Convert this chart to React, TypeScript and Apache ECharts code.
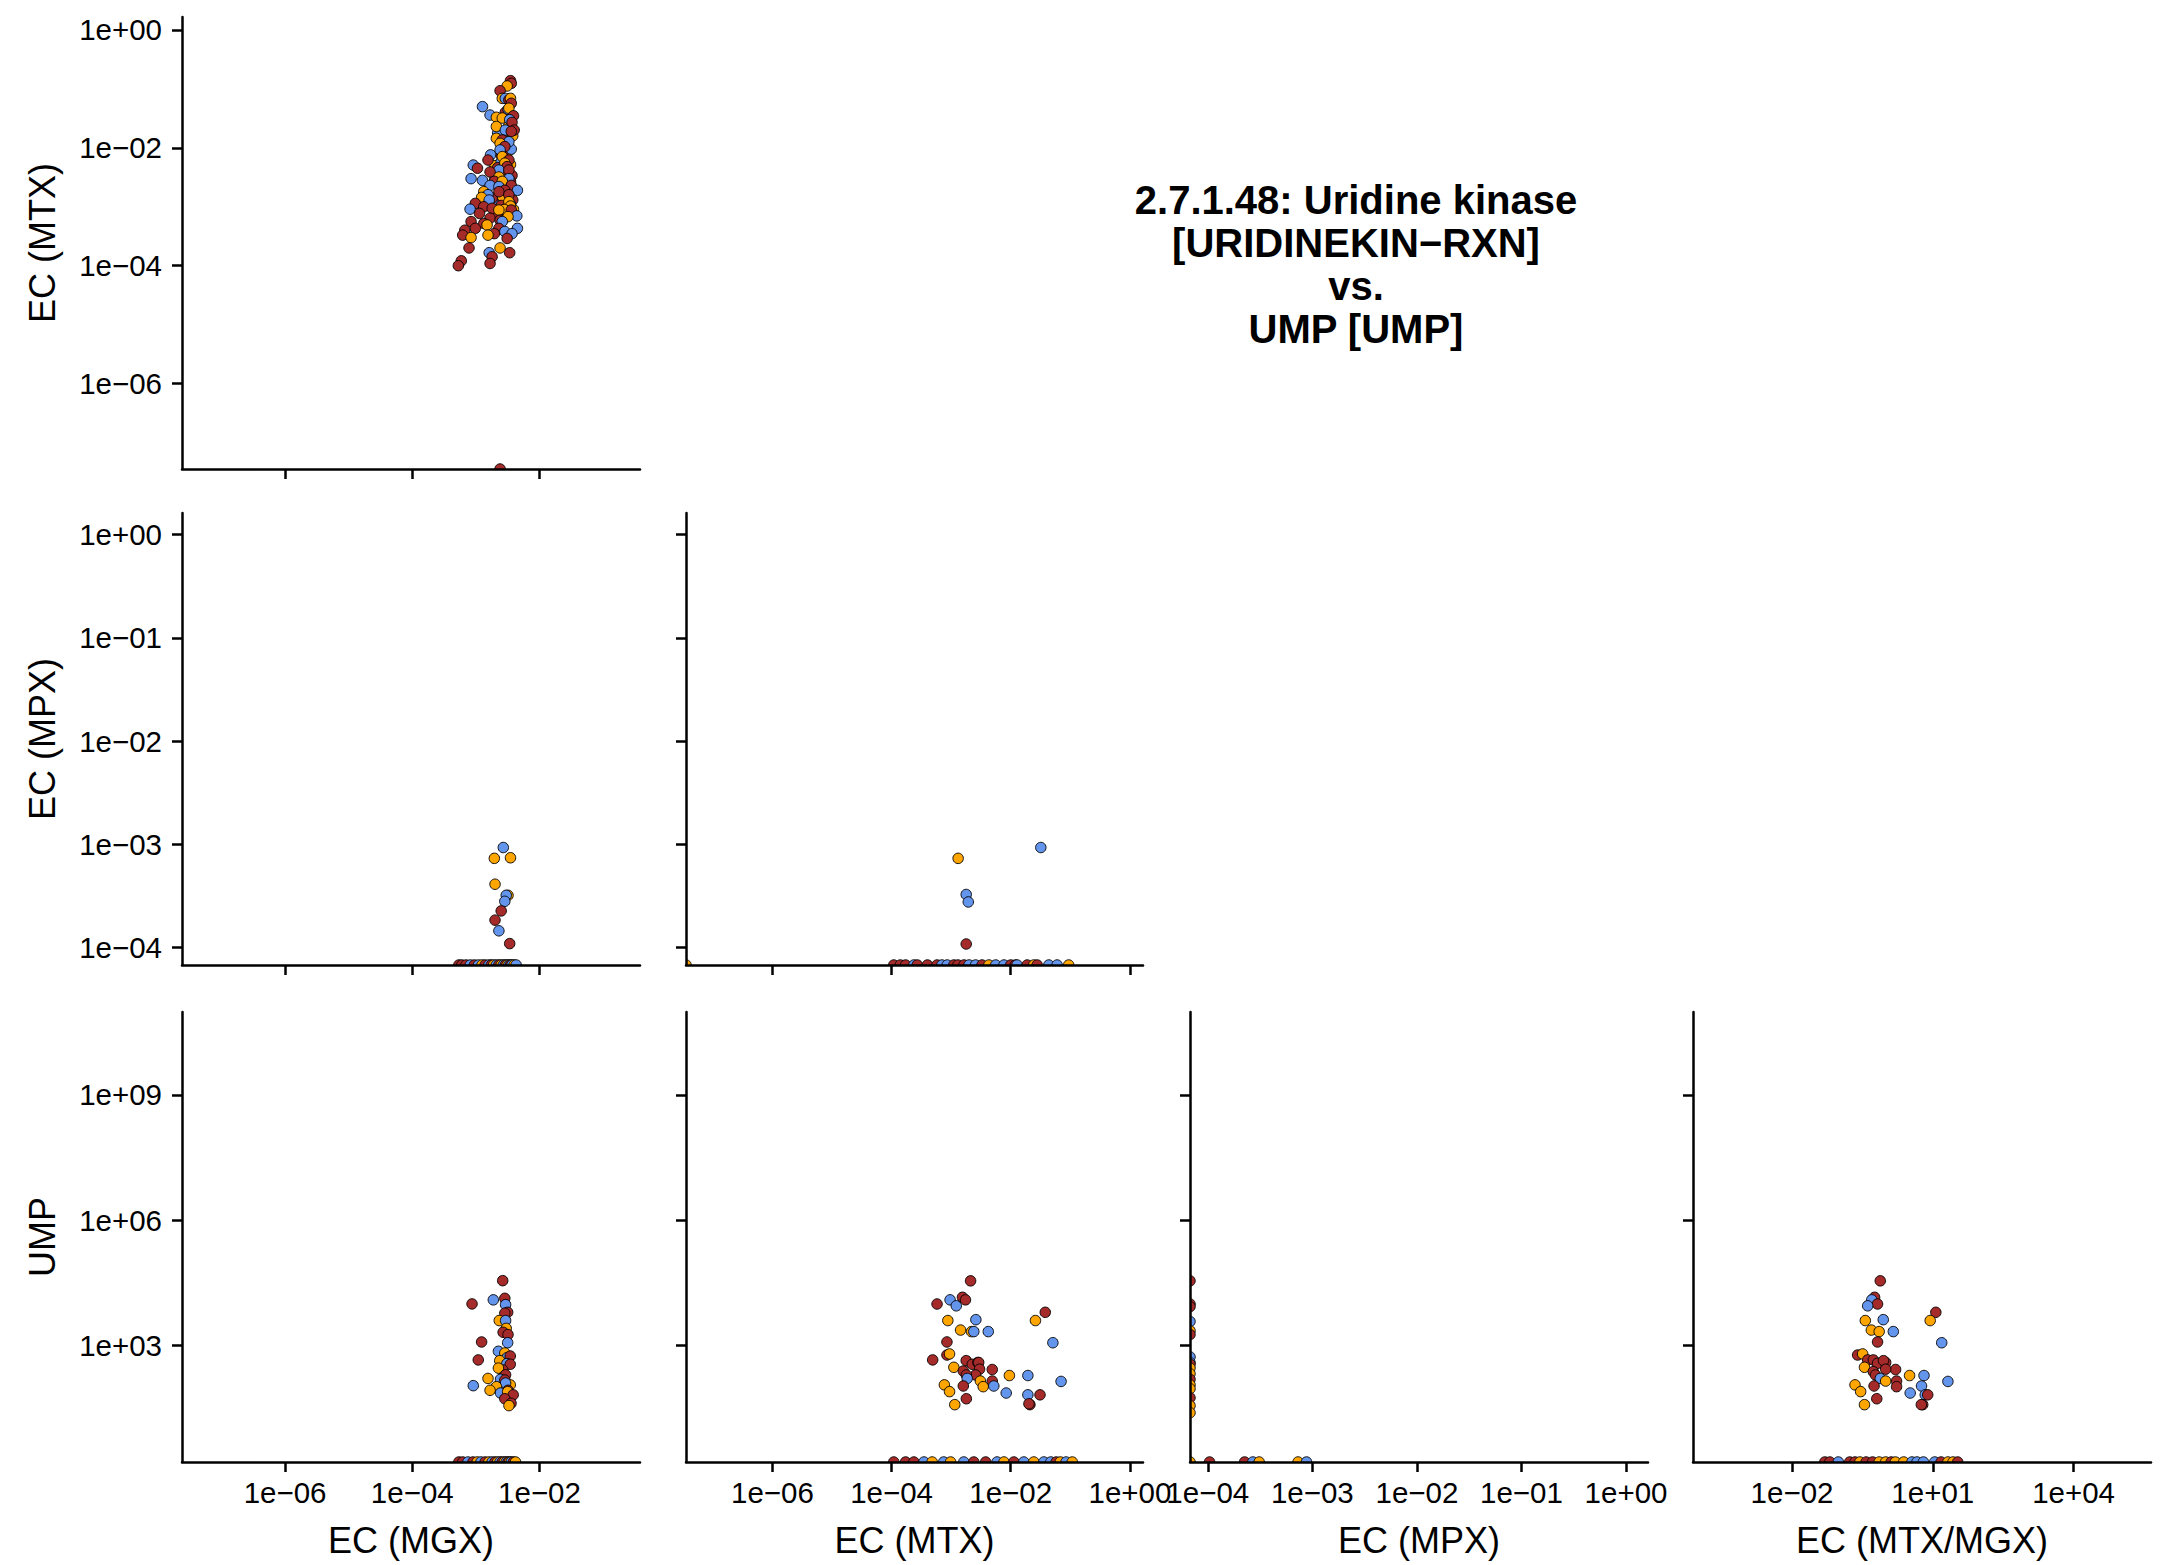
import React, { useEffect, useRef } from "react";
import * as echarts from "echarts";

type Pt = [number, number, number];
const B = 0, O = 1, R = 2;
const groupColors = ["#6495ED", "#FFA500", "#A52A2A"];

const titleLines = ["2.7.1.48: Uridine kinase", "[URIDINEKIN\u2212RXN]", "vs.", "UMP [UMP]"];
const xTitles = ["EC (MGX)", "EC (MTX)", "EC (MPX)", "EC (MTX/MGX)"];
const yTitles = ["EC (MTX)", "EC (MPX)", "UMP"];

// axis limits (log10 units) and tick values
const limLog10MGX = [-7.62, -0.42];
const limLog10MTX = [-7.45, 0.22];
const limLog10MPX = [-4.17, 0.21];
const limLog10Ratio = [-4.11, 5.65];
const limLog10UMP = [0.22, 10.98];
const ticksMGX = [1e-6, 1e-4, 1e-2];
const ticksMTX = [1e-6, 1e-4, 1e-2, 1];
const ticksMPX = [1e-4, 1e-3, 1e-2, 1e-1, 1];
const ticksRatio = [1e-2, 1e1, 1e4];
const ticksUMP = [1e3, 1e6, 1e9];

// [x, y, group]; 0 = zero value (drawn at the panel edge)
const mgxVsMtx: Pt[] = [
  [2.0e-3, 0.005, O], [3.0e-3, 0.0036, R], [2.7e-3, 0.0025, B], [3.4e-3, 0.0021, O],
  [2.2e-3, 0.0012, R], [3.0e-3, 0.0014, B], [2.5e-3, 0.0075, R], [3.2e-3, 0.0085, O],
  [1.9e-3, 0.0011, B], [3.8e-3, 0.0013, R], [2.7e-3, 0.016, B], [3.3e-3, 0.024, O],
  [2.9e-3, 0.04, R], [2.5e-3, 0.0058, B], [3.5e-3, 0.0052, O], [2.2e-3, 0.0046, R],
  [3.7e-3, 0.0034, R], [2.0e-3, 0.0031, B], [2.9e-3, 0.0029, O], [3.5e-3, 0.0027, R],
  [2.4e-3, 0.0024, R], [3.1e-3, 0.0017, R], [2.6e-3, 0.0015, O], [1.8e-3, 0.0014, R],
  [3.5e-3, 0.0011, B], [2.5e-3, 0.00105, R], [3.9e-3, 0.0009, O], [2.0e-3, 0.0008, R],
  [3.0e-3, 0.00075, R], [2.7e-3, 0.0086, R], [3.6e-3, 0.0095, B], [3.0e-3, 0.014, R],
  [3.8e-3, 0.016, O], [2.2e-3, 0.018, B],
  [3.5e-3, 0.138, R], [3.6e-3, 0.124, R], [3.1e-3, 0.112, O], [2.4e-3, 0.093, R],
  [2.6e-3, 0.069, O], [2.9e-3, 0.069, B], [3.3e-3, 0.065, R], [3.5e-3, 0.069, O],
  [3.6e-3, 0.057, R], [1.27e-3, 0.05, B], [3.2e-3, 0.045, B], [3.3e-3, 0.047, O],
  [1.67e-3, 0.036, B], [2.1e-3, 0.033, O], [3.9e-3, 0.035, R], [2.6e-3, 0.032, O],
  [3.4e-3, 0.03, B], [3.7e-3, 0.027, R], [2.1e-3, 0.023, O], [4.0e-3, 0.02, R],
  [2.9e-3, 0.02, B], [3.6e-3, 0.019, R], [2.1e-3, 0.0145, O], [2.6e-3, 0.0136, R],
  [3.3e-3, 0.0127, B], [2.4e-3, 0.0119, O], [2.85e-3, 0.0105, R], [2.4e-3, 0.0092, B],
  [1.7e-3, 0.0076, B], [2.6e-3, 0.0071, O], [1.55e-3, 0.0062, R], [3.3e-3, 0.0062, R],
  [2.85e-3, 0.0055, O], [9.1e-4, 0.0051, B], [3.1e-3, 0.0048, R], [1.06e-3, 0.0045, R],
  [2.3e-3, 0.0042, B], [3.3e-3, 0.0042, R], [1.67e-3, 0.0039, R], [2.3e-3, 0.0032, O],
  [3.3e-3, 0.003, B], [8.4e-4, 0.003, B], [1.27e-3, 0.0028, B], [1.95e-3, 0.0027, R],
  [2.6e-3, 0.0027, O], [1.67e-3, 0.0023, B], [3.6e-3, 0.0023, R], [2.3e-3, 0.0022, B],
  [2.85e-3, 0.0019, R], [4.5e-3, 0.0019, B], [1.33e-3, 0.0018, O], [2.3e-3, 0.0018, R],
  [1.55e-3, 0.0016, B], [3.3e-3, 0.0016, R], [1.23e-3, 0.00144, O], [1.62e-3, 0.0013, B],
  [3.3e-3, 0.00122, O], [9.8e-4, 0.00114, R], [3.5e-3, 0.00103, O], [1.33e-3, 0.001, R],
  [1.8e-3, 0.00094, R], [8.1e-4, 0.00091, B], [2.8e-3, 0.0009, O], [2.3e-3, 0.00088, O],
  [3.6e-3, 0.00088, R], [1.14e-3, 0.00077, R], [4.4e-3, 0.0007, B], [3.2e-3, 0.00068, O],
  [1.67e-3, 0.00064, R], [2.4e-3, 0.00059, R], [2.6e-3, 0.00056, B], [8.4e-4, 0.00056, R],
  [1.33e-3, 0.00052, R], [1.5e-3, 0.00049, O], [9.8e-4, 0.00043, R], [2.3e-3, 0.00043, R],
  [4.5e-3, 0.00043, B], [6.7e-4, 0.0004, R], [2.85e-3, 0.00038, B], [1.95e-3, 0.00035, R],
  [3.7e-3, 0.00035, B], [6.2e-4, 0.00033, R], [1.55e-3, 0.00033, O], [8.4e-4, 0.0003, O],
  [3.1e-3, 0.00029, R], [7.8e-4, 0.0002, R], [2.4e-3, 0.0002, O], [1.62e-3, 0.000166, B],
  [3.4e-3, 0.000166, R], [1.8e-3, 0.000142, R], [5.9e-4, 0.000121, R], [1.67e-3, 0.000109, R],
  [5.3e-4, 0.0001, R], [2.4e-3, 0, R],
];

const mgxVsMpx: Pt[] = [
  [5.4e-4, 0, R], [6.0e-4, 0, R], [7.0e-4, 0, R], [8.2e-4, 0, B], [9.5e-4, 0, R],
  [1.1e-3, 0, B], [1.25e-3, 0, O], [1.4e-3, 0, R], [1.6e-3, 0, B], [1.75e-3, 0, R],
  [1.9e-3, 0, O], [2.1e-3, 0, B], [2.3e-3, 0, R], [2.5e-3, 0, O], [2.7e-3, 0, B],
  [2.9e-3, 0, R], [3.1e-3, 0, O], [3.3e-3, 0, B], [3.5e-3, 0, R], [3.7e-3, 0, B],
  [4.0e-3, 0, O], [4.3e-3, 0, B],
  [2.7e-3, 9.3e-4, B], [1.95e-3, 7.3e-4, O], [3.5e-3, 7.4e-4, O], [2.0e-3, 4.1e-4, O],
  [3.2e-3, 3.2e-4, O], [3.0e-3, 3.2e-4, B], [2.85e-3, 2.8e-4, B], [2.5e-3, 2.26e-4, R],
  [2.0e-3, 1.84e-4, R], [2.3e-3, 1.45e-4, B], [3.4e-3, 1.09e-4, R],
];

const mtxVsMpx: Pt[] = [
  [0, 0, O], [1.09e-4, 0, R], [1.4e-4, 0, R], [1.72e-4, 0, R], [2.37e-4, 0, B], [2.7e-4, 0, R],
  [4.0e-4, 0, R], [5.8e-4, 0, R], [7.0e-4, 0, B], [8.6e-4, 0, B], [1.11e-3, 0, R],
  [1.3e-3, 0, R], [1.64e-3, 0, R], [2.0e-3, 0, B], [2.57e-3, 0, B], [3.3e-3, 0, R],
  [4.3e-3, 0, O], [5.6e-3, 0, B], [7.7e-3, 0, B], [0.01, 0, R], [0.012, 0, R],
  [0.0128, 0, B], [0.0189, 0, R], [0.0244, 0, O], [0.0278, 0, R], [0.0436, 0, B],
  [0.06, 0, B], [0.094, 0, O],
  [1.31e-3, 7.3e-4, O], [0.032, 9.3e-4, B], [1.79e-3, 3.26e-4, B], [1.94e-3, 2.76e-4, B],
  [1.79e-3, 1.08e-4, R],
];

const mgxVsUmp: Pt[] = [
  [5.4e-4, 0, R], [6.2e-4, 0, R], [7.5e-4, 0, B], [9.0e-4, 0, R], [1.05e-3, 0, O],
  [1.2e-3, 0, B], [1.4e-3, 0, R], [1.6e-3, 0, O], [1.8e-3, 0, B], [2.0e-3, 0, R],
  [2.2e-3, 0, O], [2.4e-3, 0, B], [2.6e-3, 0, R], [2.8e-3, 0, O], [3.0e-3, 0, B],
  [3.2e-3, 0, R], [3.4e-3, 0, O], [3.6e-3, 0, B], [3.9e-3, 0, R], [4.2e-3, 0, O],
  [2.64e-3, 3.6e4, R], [8.7e-4, 1.0e4, R], [1.88e-3, 1.25e4, B], [2.85e-3, 1.36e4, R],
  [2.93e-3, 9.6e3, B], [3.16e-3, 6.3e3, R], [2.85e-3, 6.0e3, R], [2.33e-3, 4.0e3, O],
  [2.93e-3, 4.0e3, B], [3.0e-3, 2.6e3, O], [2.68e-3, 2.1e3, R], [3.2e-3, 1.85e3, R],
  [1.23e-3, 1.23e3, R], [3.16e-3, 1.18e3, B], [2.26e-3, 736, B], [2.85e-3, 670, O],
  [3.1e-3, 520, B], [3.47e-3, 568, R], [1.09e-3, 458, R], [2.37e-3, 440, O],
  [3.07e-3, 373, B], [3.47e-3, 360, R], [2.64e-3, 264, R], [2.26e-3, 292, O],
  [2.93e-3, 202, R], [1.55e-3, 165, O], [2.44e-3, 158, B], [2.85e-3, 151, R],
  [9.1e-4, 111, B], [3.47e-3, 116, O], [2.93e-3, 128, B], [2.1e-3, 105, O],
  [1.67e-3, 86, O], [3.2e-3, 86, R], [2.44e-3, 74, B], [3.16e-3, 80, O],
  [3.86e-3, 67, R], [2.85e-3, 54, R], [3.57e-3, 42, R], [3.31e-3, 37, O],
];

const mtxVsUmp: Pt[] = [
  [1.09e-4, 0, R], [1.72e-4, 0, R], [2.37e-4, 0, R], [3.5e-4, 0, B], [4.8e-4, 0, O],
  [7.5e-4, 0, B], [9.8e-4, 0, O], [1.63e-3, 0, B], [2.4e-3, 0, R], [3.8e-3, 0, R],
  [5.9e-3, 0, B], [7.7e-3, 0, O], [0.0113, 0, R], [0.0166, 0, B], [0.0244, 0, O],
  [0.036, 0, B], [0.047, 0, B], [0.058, 0, R], [0.068, 0, O], [0.085, 0, B],
  [0.108, 0, O],
  [2.12e-3, 3.56e4, R], [5.8e-4, 9.95e3, R], [9.6e-4, 1.25e4, B], [1.22e-3, 9.0e3, B],
  [1.55e-3, 1.44e4, R], [1.74e-3, 1.25e4, R], [8.8e-4, 4.0e3, O], [2.6e-3, 4.2e3, B],
  [1.44e-3, 2.37e3, O], [2.2e-3, 2.18e3, O], [2.4e-3, 2.18e3, B], [4.2e-3, 2.18e3, B],
  [0.038, 6.3e3, R], [0.026, 4.0e3, O], [0.051, 1.18e3, B], [8.5e-4, 1.23e3, R],
  [8.5e-4, 600, R], [9.4e-4, 637, O], [4.9e-4, 458, R], [1.79e-3, 440, R],
  [2.26e-3, 360, R], [2.8e-3, 397, R], [2.9e-3, 397, R], [1.11e-3, 305, O],
  [3.0e-3, 275, R], [4.9e-3, 270, R], [1.6e-3, 248, R], [2.57e-3, 200, R],
  [1.8e-3, 200, R], [1.86e-3, 165, B], [9.5e-3, 194, O], [0.0194, 194, B],
  [3.1e-3, 143, O], [4.9e-3, 143, R], [0.07, 140, B], [1.6e-3, 109, R],
  [7.7e-4, 116, O], [3.45e-3, 105, O], [5.2e-3, 109, B], [8.4e-3, 74, B],
  [0.0194, 67, B], [0.031, 67, R], [9.4e-4, 80, O], [1.8e-3, 54, R],
  [1.15e-3, 39, O], [0.021, 39, R], [0.0202, 41, R],
];

const mpxVsUmp: Pt[] = [
  [0, 0, O], [1.04e-4, 0, R], [2.25e-4, 0, R], [2.7e-4, 0, B], [3.1e-4, 0, O],
  [7.3e-4, 0, O], [8.8e-4, 0, B],
  [0, 3.56e4, R], [0, 9.95e3, R], [0, 8.6e3, R], [0, 3.8e3, B], [0, 2.28e3, O],
  [0, 1.85e3, R], [0, 540, B], [0, 397, B], [0, 360, R], [0, 292, O], [0, 214, O],
  [0, 157, R], [0, 116, O], [0, 94, O], [0, 57, R], [0, 37, O], [0, 25, O],
];

const ratioVsUmp: Pt[] = [
  [0.05, 0, R], [0.064, 0, R], [0.097, 0, B], [0.17, 0, R], [0.22, 0, R], [0.28, 0, O],
  [0.38, 0, R], [0.52, 0, R], [0.72, 0, O], [0.99, 0, O], [1.3, 0, R], [1.6, 0, O],
  [2.4, 0, O], [3.6, 0, B], [4.6, 0, B], [6.3, 0, B], [11, 0, B], [15, 0, R],
  [21, 0, O], [27, 0, O], [34, 0, R],
  [0.76, 3.56e4, R], [0.575, 1.44e4, R], [0.5, 1.25e4, B], [0.665, 9.95e3, R],
  [0.41, 9.0e3, B], [0.365, 4.0e3, O], [0.88, 4.2e3, B], [0.49, 2.37e3, O],
  [0.72, 2.18e3, O], [1.44, 2.18e3, B], [11.6, 6.3e3, R], [8.8, 4.0e3, O],
  [15.5, 1.18e3, B], [0.665, 1.23e3, R], [0.25, 600, R], [0.32, 637, O],
  [0.41, 458, R], [0.54, 458, R], [0.665, 380, R], [0.99, 397, R],
  [0.89, 440, R], [0.35, 305, O], [1.61, 270, R], [0.99, 275, R],
  [0.54, 240, R], [0.6, 200, R], [0.76, 165, B], [3.2, 194, O],
  [6.5, 194, B], [0.99, 143, O], [1.69, 143, R], [1.69, 105, R],
  [5.75, 109, B], [0.22, 116, O], [0.56, 109, R], [0.29, 80, O],
  [3.3, 74, B], [6.9, 67, B], [7.8, 67, R], [21, 140, B],
  [0.64, 54, R], [0.35, 39, O], [6.1, 39, R], [5.7, 39, R],
];

const FONT = "'Liberation Sans', Arial, Helvetica, sans-serif";

const colLeft = [182, 686, 1190, 1693];
const colWidth = [458, 457, 458, 458];
const rowTop = [17, 513, 1012];
const rowHeight = [452, 452, 450];

type Var = { lim: number[]; ticks: number[] };
const vars: Record<string, Var> = {
  MGX: { lim: limLog10MGX, ticks: ticksMGX },
  MTX: { lim: limLog10MTX, ticks: ticksMTX },
  MPX: { lim: limLog10MPX, ticks: ticksMPX },
  RATIO: { lim: limLog10Ratio, ticks: ticksRatio },
  UMP: { lim: limLog10UMP, ticks: ticksUMP },
};

const panels = [
  { col: 0, row: 0, xv: "MGX", yv: "MTX", pts: mgxVsMtx },
  { col: 0, row: 1, xv: "MGX", yv: "MPX", pts: mgxVsMpx },
  { col: 1, row: 1, xv: "MTX", yv: "MPX", pts: mtxVsMpx },
  { col: 0, row: 2, xv: "MGX", yv: "UMP", pts: mgxVsUmp },
  { col: 1, row: 2, xv: "MTX", yv: "UMP", pts: mtxVsUmp },
  { col: 2, row: 2, xv: "MPX", yv: "UMP", pts: mpxVsUmp },
  { col: 3, row: 2, xv: "RATIO", yv: "UMP", pts: ratioVsUmp },
];

const fmtExp = (v: number) => {
  const e = Math.round(v);
  return "1e" + (e < 0 ? "\u2212" : "+") + String(Math.abs(e)).padStart(2, "0");
};
const toLog = (v: number, floor: number) => (v > 0 ? Math.log10(v) : floor);

function axisBase(v: Var, gridIndex: number, showLabel: boolean, isX: boolean) {
  const tickVals = v.ticks.map((t) => Math.round(Math.log10(t)));
  return {
    type: "value",
    gridIndex,
    min: v.lim[0],
    max: v.lim[1],
    z: 5,
    axisLine: { show: true, onZero: false, lineStyle: { color: "#000", width: 2.5 } },
    axisTick: { show: true, length: 10, lineStyle: { color: "#000", width: 2.5 }, customValues: tickVals },
    axisLabel: {
      show: showLabel,
      customValues: tickVals,
      formatter: fmtExp,
      fontSize: 29.5,
      color: "#000",
      fontFamily: FONT,
      margin: isX ? 15 : 20,
    },
    splitLine: { show: false },
  };
}

function buildOption() {
  const graphics: any[] = [];
  panels.forEach((p) => {
    const l = colLeft[p.col], t = rowTop[p.row], w = colWidth[p.col], h = rowHeight[p.row];
    graphics.push({ type: "rect", z: 3, silent: true, shape: { x: l - 8, y: t + h, width: w + 16, height: 8 }, style: { fill: "#fff" } });
    graphics.push({ type: "rect", z: 3, silent: true, shape: { x: l - 8, y: t - 8, width: 8, height: h + 16 }, style: { fill: "#fff" } });
  });
  graphics.push({
    type: "text",
    x: 1356,
    y: 264,
    z: 6,
    style: {
      text: titleLines.join("\n"),
      fontSize: 40,
      fontWeight: "bold",
      fontFamily: FONT,
      fill: "#000",
      lineHeight: 43,
      align: "center",
      verticalAlign: "middle",
      textAlign: "center",
      textVerticalAlign: "middle",
    },
  });
  xTitles.forEach((txt, c) => {
    graphics.push({
      type: "text",
      x: colLeft[c] + colWidth[c] / 2,
      y: 1540,
      z: 6,
      style: { text: txt, fontSize: 36, fontFamily: FONT, fill: "#000", align: "center", verticalAlign: "middle", textAlign: "center", textVerticalAlign: "middle" },
    });
  });
  yTitles.forEach((txt, r) => {
    graphics.push({
      type: "text",
      x: 42,
      y: rowTop[r] + rowHeight[r] / 2,
      rotation: Math.PI / 2,
      z: 6,
      style: { text: txt, fontSize: 36, fontFamily: FONT, fill: "#000", align: "center", verticalAlign: "middle", textAlign: "center", textVerticalAlign: "middle" },
    });
  });

  return {
    animation: false,
    backgroundColor: "#fff",
    textStyle: { fontFamily: FONT },
    grid: panels.map((p) => ({
      left: colLeft[p.col],
      top: rowTop[p.row],
      width: colWidth[p.col],
      height: rowHeight[p.row],
      containLabel: false,
    })),
    xAxis: panels.map((p, i) => axisBase(vars[p.xv], i, p.row === 2, true)),
    yAxis: panels.map((p, i) => axisBase(vars[p.yv], i, p.col === 0, false)),
    series: panels.map((p, i) => {
      const X = vars[p.xv], Y = vars[p.yv];
      return {
        type: "scatter",
        xAxisIndex: i,
        yAxisIndex: i,
        symbol: "circle",
        symbolSize: 10.5,
        z: 2,
        silent: true,
        clip: false,
        itemStyle: { borderColor: "#000", borderWidth: 0.9, opacity: 1 },
        data: p.pts.map(([x, y, g]) => ({
          value: [toLog(x, X.lim[0]), toLog(y, Y.lim[0])],
          itemStyle: { color: groupColors[g] },
        })),
      };
    }),
    graphic: graphics,
  };
}

export default function App() {
  const ref = useRef<HTMLDivElement>(null);
  useEffect(() => {
    if (!ref.current) return;
    const chart = echarts.init(ref.current, null, { renderer: "svg" });
    chart.setOption(buildOption() as any);
    return () => chart.dispose();
  }, []);
  return (
    <div
      ref={ref}
      style={{ position: "absolute", left: 0, top: 0, width: 2161, height: 1565, background: "#fff" }}
    />
  );
}
